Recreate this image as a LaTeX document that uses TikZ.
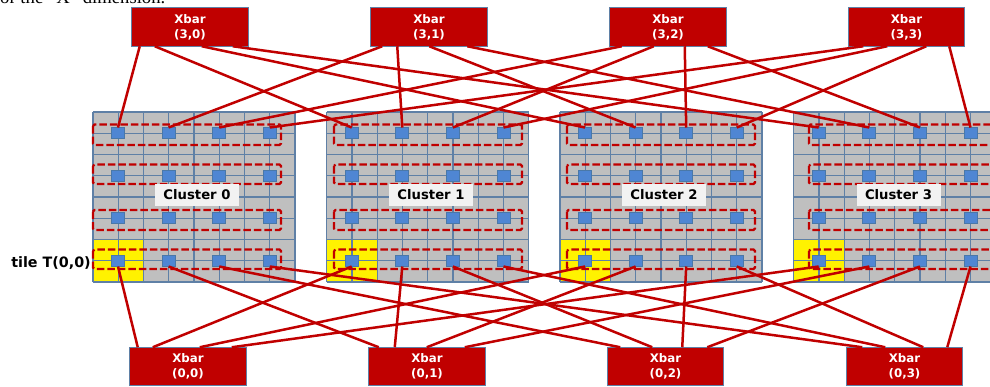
\documentclass[tikz,border=0pt]{standalone}
\usepackage{fontspec}
\setmainfont{DejaVu Sans}
\newfontfamily\serifhead{Liberation Serif}
\definecolor{xred}{HTML}{C00000}
\definecolor{gridblue}{HTML}{5F80A6}
\definecolor{tilegray}{HTML}{BFBFBF}
\definecolor{routerblue}{HTML}{4F86D3}
\definecolor{routeredge}{HTML}{4A78A8}
\definecolor{labelbg}{HTML}{F2F2F2}
\tikzset{
  xbarbox/.style={draw=gridblue,line width=1.2pt,fill=xred,text=white,minimum width=116.5pt,minimum height=38.5pt,inner sep=0pt,outer sep=0pt,align=center,font=\fontsize{11.8}{15}\bfseries},
  router/.style={draw=routeredge,line width=1pt,fill=routerblue,minimum width=13pt,minimum height=11pt,inner sep=0pt,outer sep=0pt},
  gridline/.style={draw=gridblue,line width=1.2pt},
  groupbox/.style={draw=xred,line width=2.2pt,dash pattern=on 7.5pt off 3pt,rounded corners=1.5pt},
  link/.style={draw=xred,line width=2.5pt},
  clusterlabel/.style={fill=labelbg,minimum width=84pt,minimum height=22pt,inner sep=0pt,font=\fontsize{13.2}{15}\bfseries},
  tilelabel/.style={inner sep=0pt,font=\fontsize{14.3}{16}\bfseries},
  headtext/.style={inner sep=0pt,anchor=base west,font=\serifhead\fontsize{18.7}{20}\selectfont}
}
\begin{document}
\begin{tikzpicture}[x=1pt,y=-1pt]
\useasboundingbox (0,0) rectangle (990,386);
\clip (0,0) rectangle (990,386);
\node[headtext] (head) at (0,3) {or the “X” dimension.};
% clusters
\foreach \c/\cx/\dx/\lx in {0/93/93/197,1/326.7/334/431,2/560/567/664,3/793.7/809/898.5}{
  \fill[tilegray] (\cx,112) rectangle (\cx+202,282);
  \fill[yellow] (\cx,239.5) rectangle (\cx+50.5,282);
  \foreach \i in {0,...,8}{
    \draw[gridline] (\cx+25.25*\i,112) -- (\cx+25.25*\i,282);
    \draw[gridline] (\cx,112+21.25*\i) -- (\cx+202,112+21.25*\i);
  }
  \foreach \y/\h in {124.5/20.5,164.5/19.5,210/20,249.5/19.5}{
    \draw[groupbox] (\dx,\y) rectangle (\dx+188,\y+\h);
  }
  \foreach \r/\ry in {0/133,1/176,2/218,3/261}{
    \foreach \k in {0,1,2,3}{
      \node[router] (r\c\r\k) at (\cx+25+50.6*\k,\ry) {};
    }
  }
  \node[clusterlabel] (label\c) at (\lx,195) {Cluster \c};
}
% crossbars
\node[xbarbox] (x30) at (190,27) {Xbar\\(3,0)};
\node[xbarbox] (x31) at (429,27) {Xbar\\(3,1)};
\node[xbarbox] (x32) at (668,27) {Xbar\\(3,2)};
\node[xbarbox] (x33) at (906.5,27) {Xbar\\(3,3)};
\node[xbarbox] (x00) at (188,366.5) {Xbar\\(0,0)};
\node[xbarbox] (x01) at (427,366.5) {Xbar\\(0,1)};
\node[xbarbox] (x02) at (665.5,366.5) {Xbar\\(0,2)};
\node[xbarbox] (x03) at (904.5,366.5) {Xbar\\(0,3)};
% links to the top row
\foreach \k/\a/\b/\cc/\d in {0/8/23/70/101,1/11.5/26.5/58.5/96.5,2/12/44/75/98,3/15/39/78/101}{
  \draw[link] ([xshift=\a pt]x3\k.south west) -- (r00\k.north);
  \draw[link] ([xshift=\b pt]x3\k.south west) -- (r10\k.north);
  \draw[link] ([xshift=\cc pt]x3\k.south west) -- (r20\k.north);
  \draw[link] ([xshift=\d pt]x3\k.south west) -- (r30\k.north);
}
% links to the bottom row
\foreach \k/\a/\b/\cc/\d in {0/8/23/70/102,1/10/26/58/96,2/13/45/75/100,3/16/39/77/101}{
  \draw[link] ([xshift=\a pt]x0\k.north west) -- (r03\k.south);
  \draw[link] ([xshift=\b pt]x0\k.north west) -- (r13\k.south);
  \draw[link] ([xshift=\cc pt]x0\k.north west) -- (r23\k.south);
  \draw[link] ([xshift=\d pt]x0\k.north west) -- (r33\k.south);
}
\node[tilelabel] (tile) at (51,263) {tile T(0,0)};
\end{tikzpicture}
\end{document}
